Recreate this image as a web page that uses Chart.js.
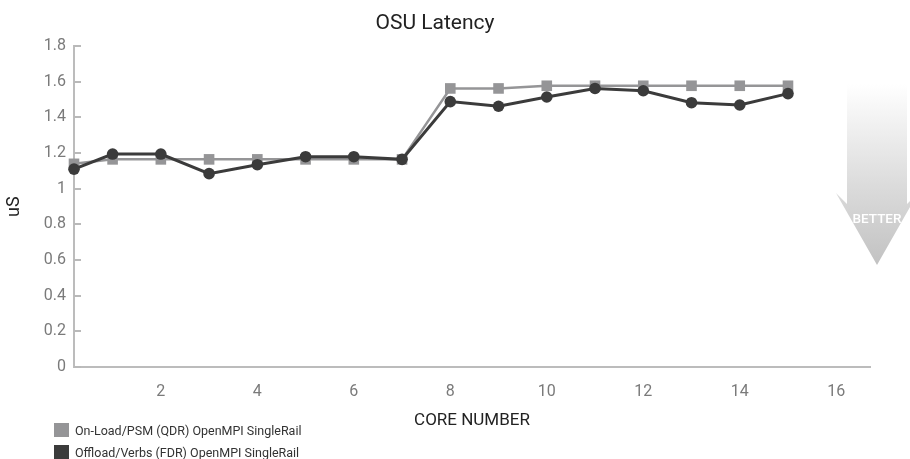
<!DOCTYPE html>
<html>
<head>
<meta charset="utf-8">
<script src="https://cdn.jsdelivr.net/npm/chart.js@4/dist/chart.umd.min.js"></script>
<style>
  html, body { margin: 0; padding: 0; background: #ffffff; }
  #wrap { position: relative; width: 910px; height: 459px; }
  #legend { position: absolute; left: 54px; top: 419px; font-family: Roboto, "Open Sans", sans-serif; font-size: 12.5px; color: #333333; }
  #legend .item { display: flex; align-items: center; height: 22px; }
  #legend .sw { width: 15px; height: 14px; margin-right: 6px; }
</style>
</head>
<body>
<div id="wrap">
  <canvas id="c" width="910" height="459"></canvas>
  <div id="legend"></div>
</div>
<script>
// ---- data ----
const coreNumbers = [0.2, 1, 2, 3, 4, 5, 6, 7, 8, 9, 10, 11, 12, 13, 14, 15];
const onloadPSM = [1.14, 1.165, 1.165, 1.165, 1.165, 1.165, 1.165, 1.165, 1.563, 1.563, 1.578, 1.578, 1.578, 1.578, 1.578, 1.578];
const offloadVerbs = [1.11, 1.195, 1.195, 1.085, 1.135, 1.18, 1.18, 1.165, 1.489, 1.463, 1.515, 1.563, 1.55, 1.483, 1.47, 1.534];
const seriesLabels = ['On-Load/PSM (QDR) OpenMPI SingleRail', 'Offload/Verbs (FDR) OpenMPI SingleRail'];
const xTickValues = [2, 4, 6, 8, 10, 12, 14, 16];
const chartTitle = 'OSU Latency';
const xTitle = 'CORE NUMBER';
const yTitle = 'uS';
const betterLabel = 'BETTER';

const colGrey = '#959597';
const colDark = '#3b3b3b';
const FONT = 'Roboto, "Open Sans", sans-serif';

// legend (HTML)
const legendColors = [colGrey, colDark];
const lg = document.getElementById('legend');
seriesLabels.forEach((t, i) => {
  const d = document.createElement('div');
  d.className = 'item';
  d.innerHTML = '<span class="sw" style="background:' + legendColors[i] + '"></span><span>' + t + '</span>';
  lg.appendChild(d);
});

// inside tick marks on y axis
const innerTicks = {
  id: 'innerTicks',
  afterDatasetsDraw(chart) {
    const y = chart.scales.y; const ctx = chart.ctx;
    ctx.save();
    ctx.strokeStyle = '#b9b9b9'; ctx.lineWidth = 2;
    y.ticks.forEach(t => {
      const py = Math.round(y.getPixelForValue(t.value));
      ctx.beginPath(); ctx.moveTo(y.right, py); ctx.lineTo(y.right + 7, py); ctx.stroke();
    });
    ctx.restore();
  }
};

// "BETTER" arrow decoration
const betterArrow = {
  id: 'betterArrow',
  afterDraw(chart) {
    const ctx = chart.ctx;
    const cx = 877, top = 84, tipY = 265, barbY = 193, joinY = 204, sh = 30, hh = 41;
    ctx.save();
    const g = ctx.createLinearGradient(0, top, 0, tipY);
    g.addColorStop(0, '#ffffff');
    g.addColorStop(0.55, '#dcdcdc');
    g.addColorStop(1, '#c2c2c2');
    ctx.fillStyle = g;
    ctx.beginPath();
    ctx.moveTo(cx - sh, top);
    ctx.lineTo(cx + sh, top);
    ctx.lineTo(cx + sh, joinY);
    ctx.lineTo(cx + hh, barbY);
    ctx.lineTo(cx, tipY);
    ctx.lineTo(cx - hh, barbY);
    ctx.lineTo(cx - sh, joinY);
    ctx.closePath();
    ctx.fill();
    ctx.fillStyle = '#ffffff';
    ctx.font = '500 13.5px ' + FONT;
    ctx.textAlign = 'center'; ctx.textBaseline = 'middle';
    ctx.fillText(betterLabel, cx, 220);
    ctx.restore();
  }
};

const mk = (xs, ys) => xs.map((x, i) => ({ x: x, y: ys[i] }));

new Chart(document.getElementById('c'), {
  type: 'line',
  data: {
    datasets: [
      {
        label: seriesLabels[0], data: mk(coreNumbers, onloadPSM),
        borderColor: colGrey, backgroundColor: colGrey, borderWidth: 2.5,
        pointStyle: 'rect', pointRadius: 7.5, pointBorderWidth: 0, pointHoverRadius: 7.5,
        tension: 0, clip: false, order: 2
      },
      {
        label: seriesLabels[1], data: mk(coreNumbers, offloadVerbs),
        borderColor: colDark, backgroundColor: colDark, borderWidth: 3,
        pointStyle: 'circle', pointRadius: 5.8, pointBorderWidth: 0, pointHoverRadius: 5.8,
        tension: 0, clip: false, order: 1
      }
    ]
  },
  options: {
    responsive: false,
    animation: false,
    devicePixelRatio: 1,
    layout: { padding: { left: 0, right: 40, top: 0, bottom: 0 } },
    plugins: {
      legend: { display: false },
      tooltip: { enabled: false },
      title: {
        display: true, text: chartTitle, color: '#222222',
        font: { family: FONT, size: 21, weight: 'normal', lineHeight: 1.2 },
        padding: { top: 11, bottom: 10 }
      }
    },
    scales: {
      x: {
        type: 'linear', min: 0.2, max: 16.7,
        afterBuildTicks: s => { s.ticks = xTickValues.map(v => ({ value: v })); },
        afterFit: s => { s.height = 92; },
        grid: { display: false, drawTicks: false },
        border: { display: true, color: '#bcbcbc', width: 2 },
        ticks: { color: '#7a7a7a', padding: 15, font: { family: FONT, size: 16 }, maxRotation: 0, autoSkip: false },
        title: { display: true, text: xTitle, color: '#222222', font: { family: FONT, size: 17, lineHeight: 1.2 }, padding: { top: 0, bottom: 28 } }
      },
      y: {
        min: 0, max: 1.8,
        afterFit: s => { s.width = 74; },
        grid: { display: false, drawTicks: false },
        border: { display: true, color: '#bcbcbc', width: 2 },
        ticks: { stepSize: 0.2, color: '#7a7a7a', padding: 8, font: { family: FONT, size: 16 },
                 callback: v => String(Math.round(v * 10) / 10) },
        title: { display: true, text: yTitle, color: '#222222', font: { family: FONT, size: 18, lineHeight: 1.2 }, padding: { top: 4, bottom: 0 } }
      }
    }
  },
  plugins: [innerTicks, betterArrow]
});
</script>
</body>
</html>
